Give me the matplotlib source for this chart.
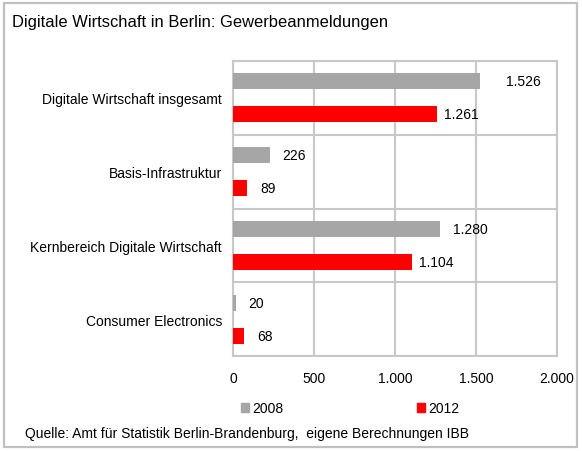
import matplotlib
matplotlib.use("Agg")
import matplotlib.pyplot as plt
from matplotlib.patches import Rectangle
import numpy as np

plt.rcParams['font.family'] = ['Liberation Sans', 'DejaVu Sans']

title = "Digitale Wirtschaft in Berlin: Gewerbeanmeldungen"
categories = ["Digitale Wirtschaft insgesamt", "Basis-Infrastruktur",
              "Kernbereich Digitale Wirtschaft", "Consumer Electronics"]
series_names = ["2008", "2012"]
values_2008 = [1526, 226, 1280, 20]
values_2012 = [1261, 89, 1104, 68]
xticks = [0, 500, 1000, 1500, 2000]
source = "Quelle: Amt für Statistik Berlin-Brandenburg,  eigene Berechnungen IBB"

grey = "#a6a6a6"
red = "#ff0000"
gridc = "#c8c8c8"

def fmt(v):
    return f"{v:,}".replace(",", ".")

fig = plt.figure(figsize=(5.82, 4.52), dpi=100)
W, H = 582, 452
# figure border
fig.patches.append(Rectangle((4 / W, 4 / H), 573 / W, 444 / H, transform=fig.transFigure,
                             fill=False, edgecolor="#c0c0c0", linewidth=1.6))

ax = fig.add_axes([233 / W, 1 - 357 / H, (557 - 233) / W, (357 - 62) / H])
n = len(categories)
y = np.arange(n)
h = 0.216
off = 0.223
ax.barh(y - off, values_2008, height=h, color=grey, zorder=3)
ax.barh(y + off, values_2012, height=h, color=red, zorder=3)
ax.set_ylim(n - 0.5, -0.5)
ax.set_xlim(0, 2000)
ax.set_xticks(xticks)
ax.set_xticklabels([fmt(t) for t in xticks], fontsize=10)
ax.set_yticks(y)
ax.set_yticklabels(categories, fontsize=10)
ax.tick_params(axis='x', length=0, pad=11)
ax.tick_params(axis='y', length=0, pad=8)
ax.grid(axis='x', color=gridc, linewidth=1.5, zorder=0)
for b in np.arange(n + 1) - 0.5:
    ax.axhline(b, color=gridc, linewidth=1.5, zorder=1)
for s in ax.spines.values():
    s.set_color(gridc)
    s.set_linewidth(1.5)

offs08 = [26, 13, 13, 12]
offs12 = [7, 13, 7, 13]
for i in range(n):
    ax.annotate(fmt(values_2008[i]), (values_2008[i], y[i] - off), xytext=(offs08[i], 0),
                textcoords="offset pixels", va="center", ha="left", fontsize=10)
    ax.annotate(fmt(values_2012[i]), (values_2012[i], y[i] + off), xytext=(offs12[i], 0),
                textcoords="offset pixels", va="center", ha="left", fontsize=10)

fig.text(12 / W, 1 - 22 / H, title, fontsize=11.9, va="center", ha="left")

handles = [Rectangle((0, 0), 1, 1, color=grey), Rectangle((0, 0), 1, 1, color=red)]
fig.legend(handles, series_names, loc="center", bbox_to_anchor=(350 / W, 1 - 409 / H),
           ncol=2, frameon=False, fontsize=10, handlelength=0.6, handleheight=0.6,
           handletextpad=0.2, columnspacing=9.6)

fig.text(25 / W, 1 - 434 / H, source, fontsize=10, va="center", ha="left")

fig.savefig("out.png", dpi=100)
